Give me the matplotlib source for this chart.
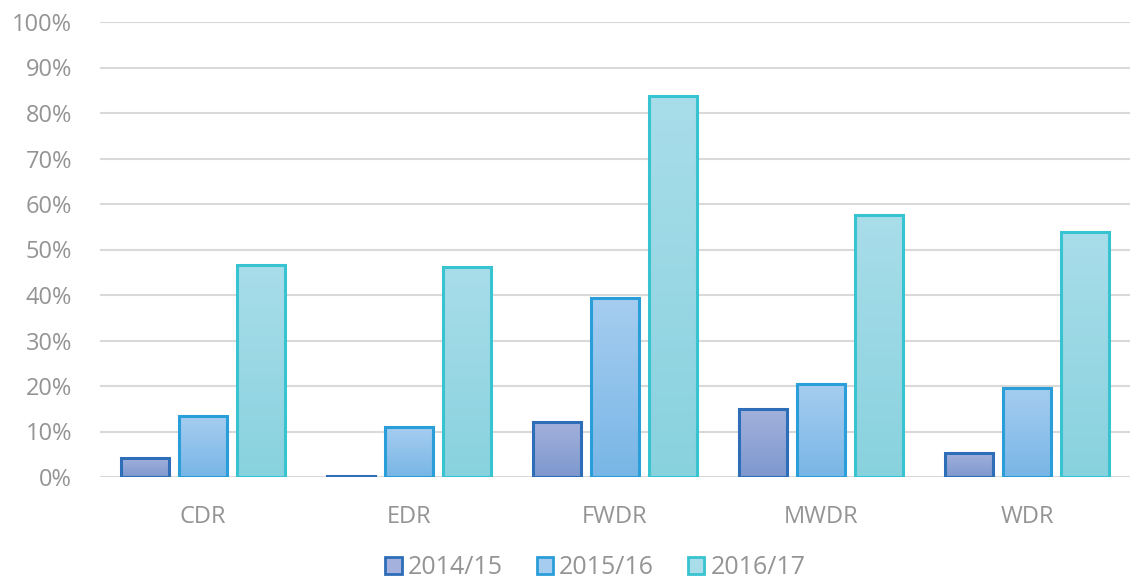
import numpy as np
import matplotlib.pyplot as plt
from matplotlib.colors import LinearSegmentedColormap
from matplotlib.patches import Patch

categories = ['CDR', 'EDR', 'FWDR', 'MWDR', 'WDR']
series = ['2014/15', '2015/16', '2016/17']
v1415 = [4.2, 0.3, 12.1, 14.9, 5.3]
v1516 = [13.4, 10.9, 39.3, 20.4, 19.6]
v1617 = [46.6, 46.2, 83.8, 57.6, 53.8]
yticks = [0, 10, 20, 30, 40, 50, 60, 70, 80, 90, 100]

edges = ['#2E6DB8', '#2A9ED8', '#38C3D0']
tops = ['#A3B1DC', '#A6CDF0', '#A9DDEA']
bottoms = ['#7E98CE', '#78B6E6', '#88D2DE']
grey = '#949494'

plt.rcParams['font.family'] = ['Open Sans', 'DejaVu Sans']

fig = plt.figure(figsize=(11.47, 5.81), dpi=100)
ax = fig.add_axes([100/1147, 1 - 477/581, 1030/1147, 455/581])

x = np.arange(len(categories))
w = 48/206
step = 58/206
grad = np.linspace(1, 0, 256).reshape(-1, 1)
for i, vals in enumerate([v1415, v1516, v1617]):
    cmap = LinearSegmentedColormap.from_list('g%d' % i, [bottoms[i], tops[i]])
    bars = ax.bar(x + (i - 1) * step, vals, w, facecolor='none',
                  edgecolor=edges[i], linewidth=2.2, zorder=3)
    for b in bars:
        x0, y0 = b.get_x(), b.get_y()
        im = ax.imshow(grad, cmap=cmap, aspect='auto', zorder=2,
                       extent=[x0, x0 + b.get_width(), y0, y0 + b.get_height()])
        im.set_clip_path(b)

ax.set_xlim(-0.5, len(categories) - 0.5)
ax.set_ylim(0, 100)
ax.set_yticks(yticks)
ax.set_yticklabels(['%d%%' % t for t in yticks])
ax.set_xticks(x)
ax.set_xticklabels(categories)
ax.yaxis.grid(True, color='#D9D9D9', linewidth=1.5, zorder=0)
ax.set_axisbelow(True)
for s in ax.spines.values():
    s.set_visible(False)
ax.tick_params(length=0, labelsize=17, colors=grey)
ax.tick_params(axis='x', pad=20)
ax.tick_params(axis='y', pad=20)

handles = [Patch(facecolor=tops[i], edgecolor=edges[i], linewidth=2, label=series[i])
           for i in range(3)]
fig.legend(handles=handles, loc='lower center', ncol=3, frameon=False,
           bbox_to_anchor=(0.519, -0.037), fontsize=18, labelcolor=grey,
           handlelength=0.65, handleheight=0.65, handletextpad=0.25, columnspacing=1.35)

fig.savefig('out.png', dpi=100)
